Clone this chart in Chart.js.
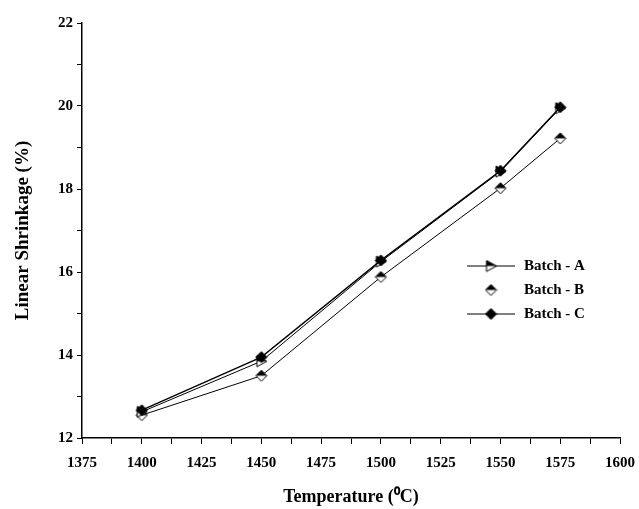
<!DOCTYPE html>
<html>
<head>
<meta charset="utf-8">
<script src="https://cdn.jsdelivr.net/npm/chart.js@4/dist/chart.umd.min.js"></script>
<style>
html,body{margin:0;padding:0;background:#fff;}
#wrap{width:639px;height:509px;position:relative;}
</style>
</head>
<body>
<div id="wrap"><canvas id="c" width="639" height="509"></canvas></div>
<script>
// Data
const temperatures = [1400, 1450, 1500, 1550, 1575];
const batchA = [12.63, 13.85, 16.25, 18.42, 19.95];
const batchB = [12.55, 13.50, 15.88, 18.02, 19.22];
const batchC = [12.67, 13.95, 16.28, 18.44, 19.97];
const seriesNames = ['Batch - A', 'Batch - B', 'Batch - C'];
const xLabels = [1375, 1400, 1425, 1450, 1475, 1500, 1525, 1550, 1575, 1600];
const yLabels = [12, 14, 16, 18, 20, 22];

function makeMarker(kind) {
  const s = 13, cv = document.createElement('canvas');
  cv.width = s; cv.height = s;
  const g = cv.getContext('2d');
  const c = s / 2, r = 5.5;
  g.lineWidth = 1;
  g.strokeStyle = '#000';
  if (kind === 'diamondFull') {
    g.beginPath(); g.moveTo(c, c - r); g.lineTo(c + r, c); g.lineTo(c, c + r); g.lineTo(c - r, c); g.closePath();
    g.fillStyle = '#000'; g.fill(); g.stroke();
  } else if (kind === 'diamondHalf') {
    g.beginPath(); g.moveTo(c, c - r); g.lineTo(c + r, c); g.lineTo(c, c + r); g.lineTo(c - r, c); g.closePath();
    g.fillStyle = '#fff'; g.fill();
    g.beginPath(); g.moveTo(c, c - r); g.lineTo(c + r, c); g.lineTo(c - r, c); g.closePath();
    g.fillStyle = '#000'; g.fill();
    g.beginPath(); g.moveTo(c, c - r); g.lineTo(c + r, c); g.lineTo(c, c + r); g.lineTo(c - r, c); g.closePath();
    g.stroke();
  } else {
    g.beginPath(); g.moveTo(c - r + 1, c - r); g.lineTo(c + r, c); g.lineTo(c - r + 1, c + r); g.closePath();
    g.fillStyle = '#fff'; g.fill();
    g.beginPath(); g.moveTo(c - r + 1, c - r); g.lineTo(c + r, c); g.lineTo(c - r + 1, c); g.closePath();
    g.fillStyle = '#000'; g.fill();
    g.beginPath(); g.moveTo(c - r + 1, c - r); g.lineTo(c + r, c); g.lineTo(c - r + 1, c + r); g.closePath();
    g.stroke();
  }
  return cv;
}
const markers = [makeMarker('triRight'), makeMarker('diamondHalf'), makeMarker('diamondFull')];

const FONT = '"Liberation Serif", "Times New Roman", serif';

const legendPlugin = {
  id: 'customLegend',
  afterDatasetsDraw(chart) {
    const ctx = chart.ctx;
    const rows = [
      { y: 266, line: true },
      { y: 290, line: false },
      { y: 314, line: true }
    ];
    ctx.save();
    ctx.font = 'bold 15px ' + FONT;
    ctx.textBaseline = 'middle';
    ctx.fillStyle = '#000';
    rows.forEach((r, i) => {
      if (r.line) {
        ctx.beginPath(); ctx.strokeStyle = '#000'; ctx.lineWidth = 1;
        ctx.moveTo(467, r.y); ctx.lineTo(515, r.y); ctx.stroke();
      }
      const m = markers[i];
      ctx.drawImage(m, 491 - m.width / 2, r.y - m.height / 2);
      ctx.fillText(seriesNames[i], 524, r.y);
    });
    ctx.restore();
  }
};

const mk = (arr) => temperatures.map((t, i) => ({ x: t, y: arr[i] }));

new Chart(document.getElementById('c'), {
  type: 'line',
  data: {
    datasets: [
      { label: seriesNames[0], data: mk(batchA), borderColor: '#000', borderWidth: 1, pointStyle: markers[0], pointRadius: 5, order: 1 },
      { label: seriesNames[1], data: mk(batchB), borderColor: '#000', borderWidth: 1, pointStyle: markers[1], pointRadius: 5, order: 2 },
      { label: seriesNames[2], data: mk(batchC), borderColor: '#000', borderWidth: 1.3, pointStyle: markers[2], pointRadius: 5, order: 0 }
    ]
  },
  options: {
    responsive: false,
    animation: false,
    layout: { padding: { top: 23, right: 19, left: 0, bottom: 0 } },
    plugins: { legend: { display: false }, tooltip: { enabled: false } },
    scales: {
      x: {
        type: 'linear', min: 1375, max: 1600,
        afterFit: (s) => { s.height = 71; s.paddingLeft = 0; s.paddingRight = 0; },
        ticks: {
          stepSize: 12.5, autoSkip: false, maxRotation: 0, color: '#000', padding: 10,
          font: { family: FONT, size: 15, weight: 'bold' },
          callback: (v) => xLabels.includes(v) ? String(v) : ''
        },
        grid: { drawOnChartArea: false, drawTicks: true, tickLength: 6, color: '#000', tickColor: '#000' },
        border: { display: true, color: '#000', width: 1.5 },
        title: { display: true, text: 'Temperature (⁰C)', color: '#000', font: { family: FONT, size: 18, weight: 'bold' }, padding: { top: 0, bottom: 1 } }
      },
      y: {
        type: 'linear', min: 12, max: 22,
        afterFit: (s) => { s.width = 82; s.paddingTop = 0; s.paddingBottom = 0; },
        ticks: {
          stepSize: 1, autoSkip: false, color: '#000', padding: 4,
          font: { family: FONT, size: 15, weight: 'bold' },
          callback: (v) => yLabels.includes(v) ? String(v) : ''
        },
        grid: { drawOnChartArea: false, drawTicks: true, tickLength: 5, color: '#000', tickColor: '#000' },
        border: { display: true, color: '#000', width: 1.5 },
        title: { display: true, text: 'Linear Shrinkage (%)', color: '#000', font: { family: FONT, size: 19, weight: 'bold' }, padding: { top: 12, bottom: 0 } }
      }
    }
  },
  plugins: [legendPlugin]
});
</script>
</body>
</html>
